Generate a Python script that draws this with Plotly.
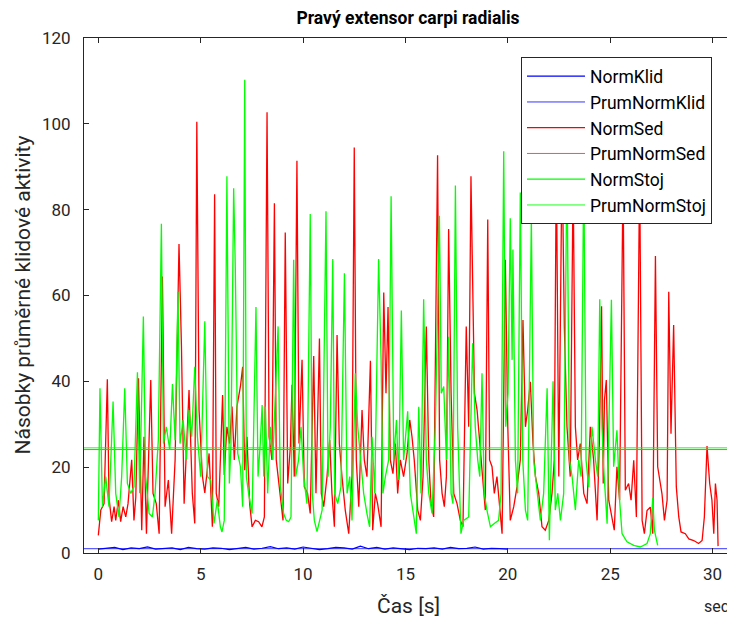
import plotly.graph_objects as go

# ---------------- data ----------------
t_limits = [-0.7, 30.95]          # span of the mean lines (axis limits)

klid_t = [0.0, 0.4, 0.8, 1.2, 1.6, 2.0, 2.4, 2.8, 3.2, 3.6, 4.0, 4.4, 4.8, 5.2, 5.6, 6.0, 6.4,
          6.8, 7.2, 7.6, 8.0, 8.4, 8.8, 9.2, 9.6, 10.0, 10.4, 10.8, 11.2, 11.6, 12.0, 12.4, 12.8,
          13.2, 13.6, 14.0, 14.4, 14.8, 15.2, 15.6, 16.0, 16.4, 16.8, 17.2, 17.6, 18.0, 18.4,
          18.8, 19.2, 19.6, 20.0]
klid_v = [0.9, 1.1, 1.3, 0.8, 1.2, 1.0, 1.4, 0.9, 1.1, 1.2, 0.8, 1.3, 1.0, 0.9, 1.2, 1.1, 0.8,
          1.0, 1.3, 0.9, 1.1, 1.5, 1.0, 1.2, 0.9, 1.4, 1.1, 0.8, 1.0, 1.3, 1.2, 0.9, 1.6,
          1.0, 1.3, 0.9, 1.2, 1.0, 0.8, 1.1, 1.0, 1.2, 0.9, 1.3, 1.0, 1.1, 1.4,
          0.9, 1.1, 1.0, 0.9]
prum_klid = 1.0

sed_t = [0.0, 0.12, 0.28, 0.44, 0.52, 0.65, 0.77, 0.85, 0.98, 1.09, 1.21, 1.34, 1.45, 1.63, 1.74,
         1.83, 1.96, 2.12, 2.23, 2.35, 2.56, 2.67, 2.83, 2.97, 3.13, 3.26, 3.42, 3.58, 3.75, 3.94,
         4.06, 4.19, 4.43, 4.59, 4.71, 4.81, 4.92, 5.08, 5.2, 5.41, 5.57, 5.68,
         5.76, 5.88, 5.96, 6.07, 6.15, 6.28, 6.41, 6.53, 6.64, 6.77, 6.94, 7.05, 7.15, 7.26, 7.39,
         7.51, 7.67, 7.83, 7.99, 8.11, 8.24, 8.34, 8.48, 8.6, 8.69, 8.81, 8.92, 9.02, 9.13, 9.25,
         9.38, 9.46, 9.57, 9.7, 9.8, 9.95, 10.06, 10.22, 10.35, 10.52, 10.63, 10.8, 10.89, 11.01,
         11.17, 11.3, 11.41, 11.53, 11.66, 11.77, 11.9,
         12.06, 12.23, 12.39, 12.5, 12.6, 12.72, 12.88, 12.99, 13.12, 13.29, 13.4, 13.53, 13.64,
         13.81, 13.94, 14.05, 14.15, 14.26, 14.39, 14.51, 14.62, 14.75, 14.91, 15.08, 15.21, 15.32,
         15.43, 15.6, 15.73, 15.86, 16.02, 16.14, 16.25, 16.38, 16.57, 16.67, 16.79, 16.9, 17.0,
         17.11, 17.23, 17.36, 17.52, 17.68, 17.81, 17.97, 18.09, 18.2,
         18.37, 18.5, 18.63, 18.79, 18.9, 19.02, 19.11, 19.23, 19.34, 19.47, 19.6, 19.72, 19.88,
         20.0, 20.12, 20.29, 20.45, 20.61, 20.74, 20.86, 20.97, 21.1, 21.23, 21.35, 21.51, 21.67,
         21.83, 22.0, 22.16, 22.27, 22.37, 22.49, 22.65, 22.76, 22.89, 23.05, 23.19, 23.3, 23.41,
         23.54, 23.71, 23.87, 24.03, 24.19, 24.36, 24.47, 24.58,
         24.66, 24.72, 24.81, 24.93, 25.09, 25.2, 25.33, 25.46, 25.63, 25.74, 25.9, 26.02, 26.15,
         26.28, 26.44, 26.56, 26.67, 26.8, 26.96, 27.08, 27.21, 27.32, 27.45, 27.53, 27.65, 27.78,
         27.86, 27.97, 28.1, 28.23, 28.35, 28.46, 28.67, 28.84, 29.08, 29.32, 29.49, 29.6, 29.73,
         29.86, 29.97, 30.06, 30.14, 30.22, 30.27]
sed_v = [4.1, 10, 11.5, 40.5, 13, 7.3, 10.8, 7.6, 12.3, 7.3, 10.8, 8.4, 11.5, 21.7, 7.6,
         13, 40.7, 5.3, 27.1, 4.5, 40.3, 13.9, 11.5, 4.5, 64.4, 10.8, 17, 4.5, 21.7, 72,
         48.1, 11.5, 38, 13.9, 6.9, 100.5, 33.3, 18, 14, 23.2, 6.1, 83.6,
         13.9, 10.8, 21.7, 36.8, 18.2, 29.4, 25.5, 34.1, 21.7, 34.1, 38.8, 43.4, 19.3, 27.1, 11.5,
         6.1, 7.6, 7.3, 6.1, 8.4, 102.7, 27.1, 21.7, 81.5, 21.7, 16.2, 10.8, 7.6, 74.7, 16.2,
         24.8, 39.2, 17.8, 91.4, 25.5, 45, 15.4, 13.9, 9.2, 45.9, 13.9, 50, 13.9, 10.8,
         17.8, 26.3, 13.9, 6.1, 50.8, 25.5, 17.8,
         10, 4.5, 17.8, 94.5, 21.7, 10.8, 33.3, 21.7, 17.8, 44.8, 5.3, 13.9, 11.5,
         6.1, 60.7, 37.2, 57.3, 21.7, 18.5, 25.5, 13.9, 21.7, 17.8, 23.2, 31, 27.1,
         21.7, 10, 7.6, 17.8, 52.8, 21.7, 11.5, 8.4, 92.7, 21.7, 13.9, 10.8, 17.8,
         75.5, 37.2, 13.9, 11.5, 7.6, 6.1, 52.8, 29.4, 87.8,
         37.2, 33.3, 25.5, 17.8, 10, 77.7, 21.7, 20.1, 13.9, 17.8, 11.5, 4.5, 68.3,
         29.4, 7.6, 10.8, 15.4, 21.7, 54.3, 29.4, 33.3, 39.9, 25.5, 17.8, 13.9, 6.1,
         5.3, 7.6, 13.9, 21.7, 91.7, 17.8, 93, 52.8, 29.4, 17.8, 87.8, 29.4, 21.7,
         25.5, 13.9, 11.5, 29.4, 21.7, 7.6, 25.5, 57.5,
         16.2, 35.6, 40.3, 12.3, 8.4, 5.3, 20.1, 12.3, 88, 14.6, 16.2, 12.3, 21.6,
         8.4, 90, 7.6, 4.5, 9.9, 10.7, 4.5, 69.2, 20.1, 16.2, 13.8, 7.6, 12.3,
         60.9, 27.8, 53.1, 15.4, 8.4, 4.9, 4.5, 3.3, 2.9, 2.2, 2.9, 8.4, 24.9,
         16.2, 12.3, 4.5, 16.2, 12.3, 1.6]
prum_sed = 24.1

stoj_t = [0.0, 0.08, 0.2, 0.36, 0.52, 0.72, 0.85, 1.01, 1.14, 1.29, 1.42, 1.58, 1.74, 1.91, 2.02,
          2.2, 2.31, 2.48, 2.64, 2.77, 2.93, 3.08, 3.18, 3.32, 3.49, 3.62, 3.75, 3.89, 3.99, 4.14,
          4.3, 4.43, 4.56, 4.71, 4.84, 5.0, 5.2, 5.33, 5.49, 5.65, 5.81,
          5.96, 6.04, 6.15, 6.28, 6.4, 6.48, 6.61, 6.69, 6.81, 6.94, 7.05, 7.15, 7.23, 7.34, 7.51,
          7.7, 7.8, 7.91, 8.0, 8.08, 8.16, 8.27, 8.4, 8.52, 8.65, 8.78, 8.89, 9.05, 9.18, 9.3,
          9.41, 9.54, 9.64, 9.78, 9.9, 10.03, 10.19, 10.35, 10.45, 10.55, 10.68, 10.81, 10.93,
          11.12, 11.22, 11.33, 11.45, 11.54, 11.69, 11.85, 12.02,
          12.15, 12.28, 12.39, 12.55, 12.67, 12.8, 12.96, 13.12, 13.25, 13.37, 13.5, 13.69, 13.81,
          13.9, 14.02, 14.18, 14.3, 14.43, 14.56, 14.67, 14.8, 14.91, 15.11, 15.24, 15.4, 15.53,
          15.65, 15.76, 15.89, 16.02, 16.14, 16.3, 16.46, 16.66, 16.75, 16.87, 17.0, 17.11, 17.23,
          17.32, 17.44, 17.55, 17.65, 17.71, 17.84, 18.09, 18.28,
          18.41, 18.53, 18.63, 18.74, 18.85, 18.98, 19.15, 19.34, 19.55, 19.67, 19.8, 19.9, 20.01,
          20.12, 20.21, 20.25, 20.37, 20.48, 20.61, 20.73, 20.86, 20.97, 21.15, 21.26, 21.43,
          21.59, 21.75, 21.92, 22.03, 22.21, 22.32, 22.44, 22.57, 22.73, 22.89, 23.01, 23.14,
          23.3, 23.46, 23.58, 23.71, 23.82, 23.95, 24.11, 24.28, 24.39, 24.49, 24.6, 24.68, 24.85,
          24.93, 25.06, 25.17, 25.33, 25.46, 25.58, 25.82, 26.15, 26.47, 26.8, 26.96, 27.08,
          27.16, 27.32]
stoj_v = [7.6, 38.4, 10.8, 17.8, 10.8, 35.3, 13.9, 8.4, 17.8, 38.4, 16.2, 13.9, 15.4, 42.1, 13.9,
          55.1, 17.8, 9.2, 8.4, 13.9, 26.3, 76.7, 25.5, 29.4, 24, 39.4, 26.3, 60.8, 25.5, 31,
          21.7, 33.3, 27.1, 43.4, 27.1, 17.8, 54, 17.8, 17, 6.9, 12.3,
          6.1, 4.9, 7.6, 87.8, 16.2, 25.5, 85, 66.4, 23.2, 20.1, 10.8, 110.3, 17.8, 13.9, 9.2,
          57.3, 17.8, 25.5, 34.5, 17.8, 34.1, 13.9, 29.4, 21.7, 37.2, 52.8, 15.4, 9.2, 7.6, 7.3,
          8.4, 68.3, 17.8, 21.7, 29.4, 17.8, 11.5, 79, 13.9, 7.6, 5, 7.6, 10,
          79.6, 17.8, 29.4, 68.5, 13.9, 11.5, 15.4, 65.2,
          13.9, 17.8, 7.6, 41.9, 29.4, 21.7, 13.9, 9.2, 6.1, 27.1, 13.9, 68.5, 45,
          13.9, 17.8, 21.7, 83.1, 21.7, 31, 17, 56.5, 21.7, 33, 13.9, 9.2, 4.5,
          34.1, 13.9, 59.1, 21.7, 13.9, 9.2, 29.4, 78.6, 37.2, 38.8, 21.7, 50.4, 13.9,
          11.5, 85.6, 29.4, 13.9, 4.5, 7.6, 8.4, 48.9,
          29.4, 21.7, 17.8, 41.9, 13.9, 10, 6.1, 6.9, 7.6, 13.9, 93.6, 29.4, 37.2,
          78, 45, 70.7, 21.7, 13.9, 84, 21.7, 10, 7.6, 78, 21.7, 13.9,
          7.6, 13.9, 38.4, 3, 40, 10, 13.9, 7.6, 13.9, 91.7, 21.7, 17.8,
          10, 21.7, 17.8, 90.1, 21.7, 15.4, 29.4, 21.7, 17.8, 59.1, 29.4, 20.1, 6.8,
          27.8, 59, 20.1, 28.6, 12.3, 4.5, 2.6, 1.8, 1.4, 2.2, 4.5, 12.8,
          5.3, 1.8]
prum_stoj = 24.5

# ---------------- figure ----------------
BLUE, RED, GREEN = "#0000ff", "#ff0000", "#00ff00"
fig = go.Figure()
fig.add_trace(go.Scatter(x=klid_t, y=klid_v, mode="lines", name="NormKlid",
                         line=dict(color=BLUE, width=1.2), legendgroup="a"))
fig.add_trace(go.Scatter(x=t_limits, y=[prum_klid, prum_klid], mode="lines", name="PrumNormKlid",
                         line=dict(color=BLUE, width=0.8), legendgroup="b"))
fig.add_trace(go.Scatter(x=sed_t, y=sed_v, mode="lines", name="NormSed",
                         line=dict(color=RED, width=1.3), legendgroup="c"))
fig.add_trace(go.Scatter(x=t_limits, y=[prum_sed, prum_sed], mode="lines", name="PrumNormSed",
                         line=dict(color="#ff5050", width=1.0), legendgroup="d"))
fig.add_trace(go.Scatter(x=stoj_t, y=stoj_v, mode="lines", name="NormStoj",
                         line=dict(color=GREEN, width=1.3), legendgroup="e"))
fig.add_trace(go.Scatter(x=t_limits, y=[prum_stoj, prum_stoj], mode="lines", name="PrumNormStoj",
                         line=dict(color=GREEN, width=0.9), legendgroup="f"))

axcol = "#262626"
FONT = "Roboto"
# the page adds an 8 px body margin, so the figure is 8 px smaller and shifted
fig.update_layout(
    width=727, height=612,
    margin=dict(l=76, r=3, t=30, b=67),
    paper_bgcolor="white", plot_bgcolor="white",
    font=dict(family=FONT, color=axcol, size=16),
    showlegend=True,
    title=dict(text="<b>Pravý extensor carpi radialis</b>", xref="paper", x=0.5, xanchor="center",
               yref="container", y=1 - 10 / 612, yanchor="middle",
               font=dict(family=FONT, size=17.5, color="black")),
    legend=dict(x=(521 - 84) / 648, y=(552.7 - 58) / 514, xanchor="left", yanchor="top",
                bgcolor="white", bordercolor=axcol, borderwidth=1,
                font=dict(family=FONT, size=17.5, color="black"),
                tracegroupgap=0, itemwidth=58),
    xaxis=dict(range=t_limits, tickvals=[0, 5, 10, 15, 20, 25, 30], ticks="inside",
               ticklen=5, tickcolor=axcol, showline=True, linecolor=axcol, linewidth=1,
               mirror="ticks", showgrid=False, zeroline=False, ticklabelstandoff=6,
               tickfont=dict(family=FONT, size=17, color=axcol)),
    yaxis=dict(range=[0, 120], tickvals=[0, 20, 40, 60, 80, 100, 120], ticks="inside",
               ticklen=5, tickcolor=axcol, showline=True, linecolor=axcol, linewidth=1,
               mirror="ticks", showgrid=False, zeroline=False, ticklabelstandoff=9,
               tickfont=dict(family=FONT, size=17, color=axcol)),
    annotations=[
        dict(text="Čas [s]", xref="paper", yref="paper", x=0.5, y=(552.7 - 606) / 514,
             xanchor="center", yanchor="middle", showarrow=False,
             font=dict(family=FONT, size=21, color=axcol)),
        dict(text="sec", xref="paper", yref="paper", x=(716 - 84) / 648, y=(552.7 - 606) / 514,
             xanchor="center", yanchor="middle", showarrow=False,
             font=dict(family=FONT, size=16, color=axcol)),
        dict(text="Násobky průměrné klidové aktivity", xref="paper", yref="paper",
             x=(22 - 84) / 648, y=0.5, xanchor="center", yanchor="middle", textangle=-90,
             showarrow=False, font=dict(family=FONT, size=21, color=axcol)),
    ],
)
fig.write_html("out.html")
